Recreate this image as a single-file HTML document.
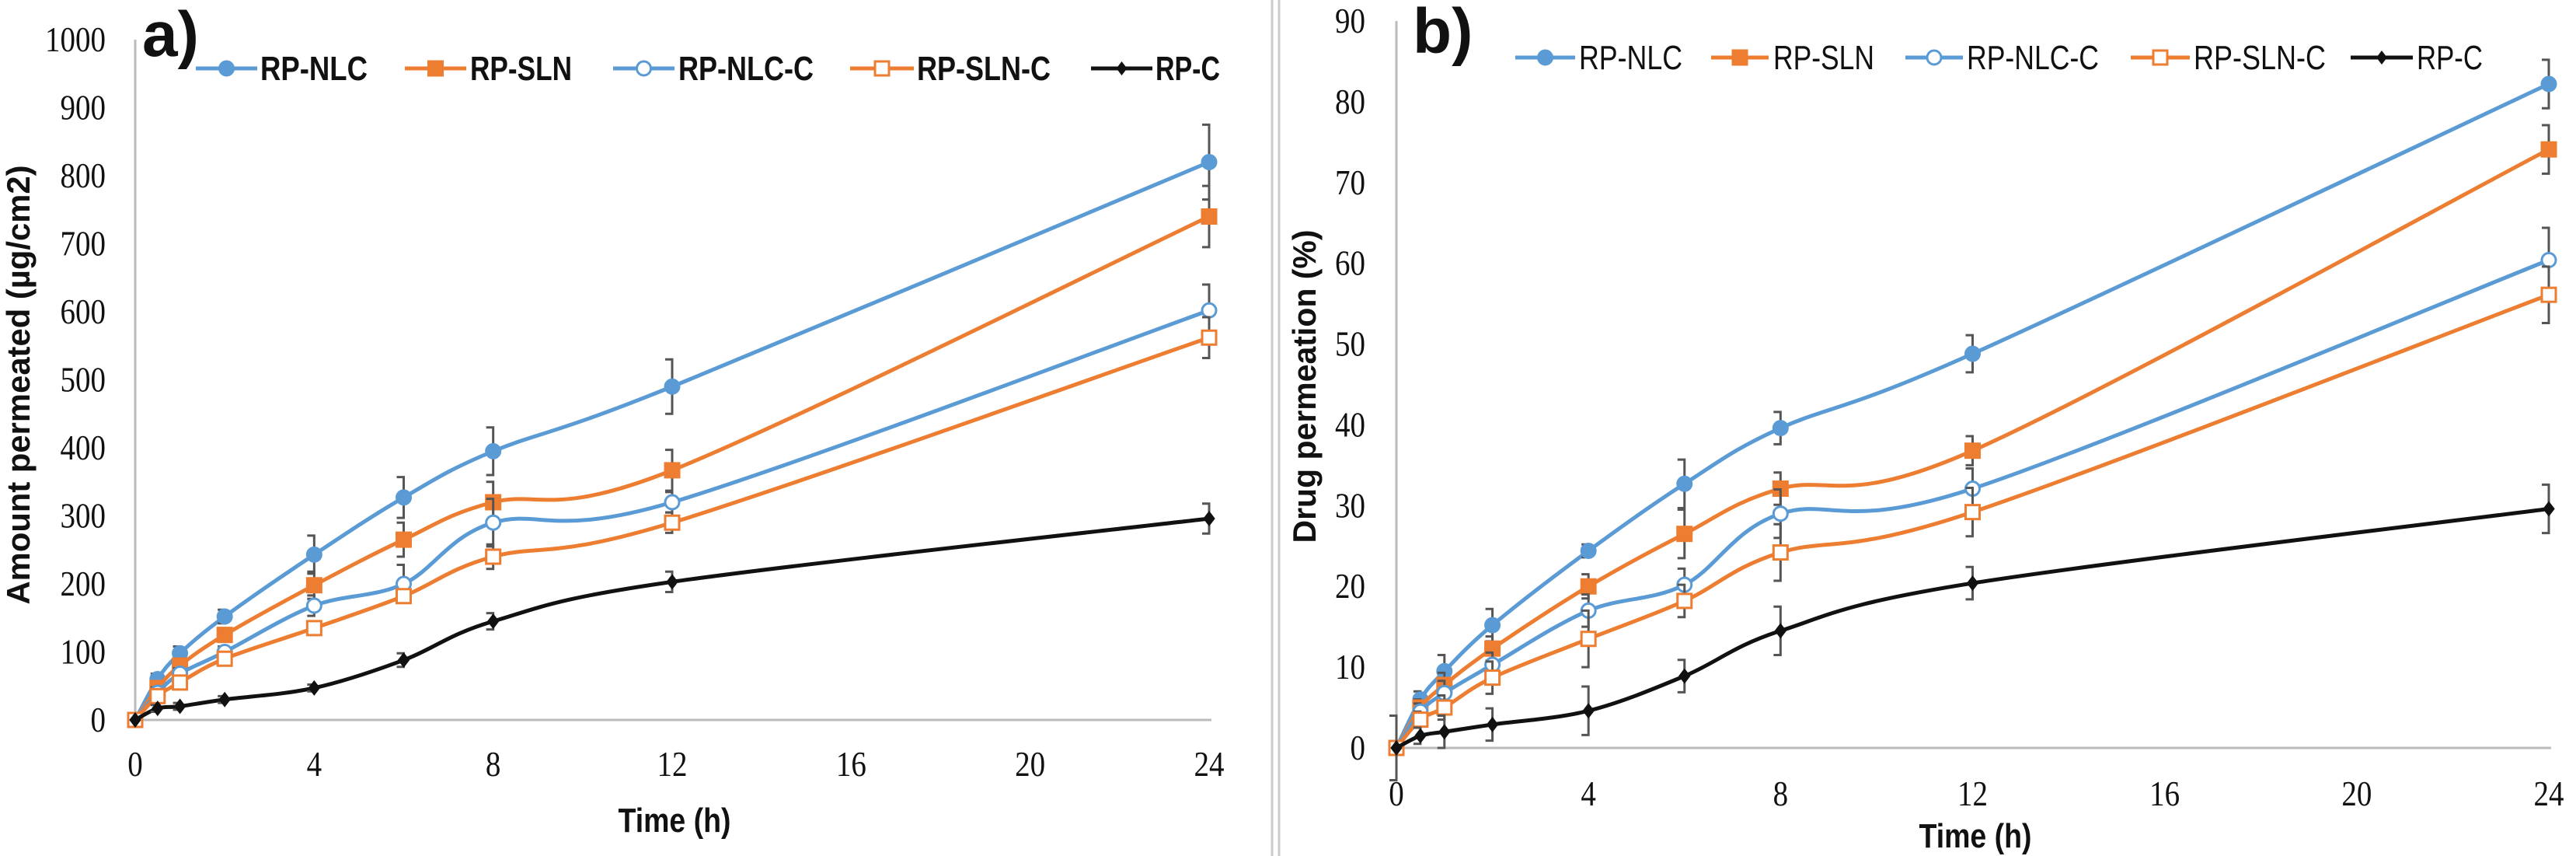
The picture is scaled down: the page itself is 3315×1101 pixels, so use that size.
<!DOCTYPE html>
<html><head><meta charset="utf-8"><style>
html,body{margin:0;padding:0;background:#fff;}
svg{display:block;}
</style></head><body>
<svg id="fig" width="3315" height="1101" viewBox="0 0 3315 1101" xmlns="http://www.w3.org/2000/svg">
<line x1="1637" y1="0" x2="1637" y2="1101" stroke="#ccc" stroke-width="3"/>
<line x1="1646" y1="0" x2="1646" y2="1101" stroke="#ccc" stroke-width="3"/>
</svg>
<script>
const times = [0, 0.5, 1, 2, 4, 6, 8, 12, 24];
const seriesNames = ["RP-NLC", "RP-SLN", "RP-NLC-C", "RP-SLN-C", "RP-C"];
const xTicks = [0, 4, 8, 12, 16, 20, 24];
// panel a: amount permeated (µg/cm2)
const aNLC = [0, 60, 98, 152, 243, 327, 395, 490, 820];
const aSLN = [0, 47, 80, 125, 198, 265, 320, 367, 740];
const aNLCC = [0, 40, 68, 100, 168, 200, 290, 320, 602];
const aSLNC = [0, 35, 55, 90, 135, 182, 240, 290, 562];
const aC = [0, 17, 20, 30, 47, 88, 145, 203, 296];
const aErrNLC = [0, 8, 10, 10, 28, 30, 35, 40, 55];
const aErrSLN = [0, 8, 8, 10, 20, 25, 30, 30, 45];
const aErrNLCC = [0, 8, 8, 8, 15, 28, 35, 15, 38];
const aErrSLNC = [0, 6, 6, 8, 10, 10, 18, 15, 30];
const aErrC = [0, 5, 5, 5, 5, 10, 12, 15, 22];
const aTicks = [0,100,200,300,400,500,600,700,800,900,1000];
// panel b: drug permeation (%)
const bNLC = [0, 6, 9.5, 15.2, 24.4, 32.7, 39.6, 48.8, 82.2];
const bSLN = [0, 5, 7.8, 12.3, 20, 26.5, 32.1, 36.8, 74.1];
const bNLCC = [0, 4.5, 6.8, 10.3, 17, 20.2, 29, 32.1, 60.4];
const bSLNC = [0, 3.5, 5, 8.7, 13.5, 18.2, 24.2, 29.2, 56.1];
const bC = [0, 1.5, 2, 2.9, 4.6, 8.9, 14.5, 20.4, 29.6];
const bErrNLC = [0, 1, 2, 2, 0.8, 3, 2, 2.3, 3];
const bErrSLN = [0, 1, 1.5, 1.5, 1.5, 3, 2, 1.8, 3];
const bErrNLCC = [0, 1, 1.5, 1.5, 2, 2, 3, 2.5, 4];
const bErrSLNC = [0, 1, 1.5, 2, 3.5, 2, 3.5, 3, 3.5];
const bErrC = [4, 1, 2, 2, 3, 2, 3, 2, 3];
const bTicks = [0,10,20,30,40,50,60,70,80,90];

const NS = "http://www.w3.org/2000/svg";
const svg = document.getElementById('fig');
const BLUE = "#5B9BD5", ORANGE = "#ED7D31", BLACK = "#111";
const styles = [
  {c: BLUE, m: "circle", fill: true},
  {c: ORANGE, m: "square", fill: true},
  {c: BLUE, m: "circle", fill: false},
  {c: ORANGE, m: "square", fill: false},
  {c: BLACK, m: "diamond", fill: true}
];
function mk(tag, attrs, parent) {
  const e = document.createElementNS(NS, tag);
  for (const k in attrs) e.setAttribute(k, attrs[k]);
  (parent || svg).appendChild(e);
  return e;
}
function marker(g, st, x, y, s) {
  let e;
  const fill = st.fill ? st.c : "#fff";
  if (st.m === "circle") e = mk("circle", {cx: x, cy: y, r: s/2, fill: fill, stroke: st.c, "stroke-width": 3}, g);
  else if (st.m === "square") e = mk("rect", {x: x - s/2, y: y - s/2, width: s, height: s, fill: fill, stroke: st.c, "stroke-width": 3}, g);
  else e = mk("path", {d: `M${x} ${y-s/2}L${x+s/2.6} ${y}L${x} ${y+s/2}L${x-s/2.6} ${y}Z`, fill: fill}, g);
  return e;
}
function smooth(pts) {
  const t = 0.5 / 3 * 2;
  let d = `M${pts[0][0]} ${pts[0][1]}`;
  for (let i = 0; i < pts.length - 1; i++) {
    const p0 = pts[Math.max(0, i-1)], p1 = pts[i], p2 = pts[i+1], p3 = pts[Math.min(pts.length-1, i+2)];
    const c1x = p1[0] + (p2[0]-p0[0]) * t / 2, c1y = p1[1] + (p2[1]-p0[1]) * t / 2;
    const c2x = p2[0] - (p3[0]-p1[0]) * t / 2, c2y = p2[1] - (p3[1]-p1[1]) * t / 2;
    d += `C${c1x} ${c1y} ${c2x} ${c2y} ${p2[0]} ${p2[1]}`;
  }
  return d;
}
function panel(cfg) {
  const g = mk("g", {});
  
  
  const X = v => cfg.x0 + (cfg.x1 - cfg.x0) * v / 24;
  const Y = v => cfg.y0 - (cfg.y0 - cfg.yTop) * v / cfg.yMax;
  // axes
  const ya = mk("line", {x1: cfg.x0, y1: cfg.yTop, x2: cfg.x0, y2: cfg.y0, stroke: "#bbb", "stroke-width": 3}, g);
  
  
  const xa = mk("line", {x1: cfg.x0, y1: cfg.y0, x2: cfg.x1 + 3, y2: cfg.y0, stroke: "#bbb", "stroke-width": 3}, g);
  
  
  cfg.yTicks.forEach(v => {
    const t = mk("text", {x: cfg.ylabX, y: Y(v) + 15, "text-anchor": "end", "font-family": "Liberation Serif, serif", "font-size": 46, fill: "#111", "textLength": String(v).length * 19.5, "lengthAdjust": "spacingAndGlyphs"}, g);
    t.textContent = v;
    
    
  });
  xTicks.forEach(v => {
    const t = mk("text", {x: X(v), y: cfg.xlabY, "text-anchor": "middle", "font-family": "Liberation Serif, serif", "font-size": 46, fill: "#111", "textLength": String(v).length * 19.5, "lengthAdjust": "spacingAndGlyphs"}, g);
    t.textContent = v;
    
    
  });
  // series
  cfg.series.forEach((vals, si) => {
    const st = styles[si];
    const sg = mk("g", {}, g);
    
    
    const pts = times.map((tm, i) => [X(tm), Y(vals[i])]);
    const ln = mk("path", {d: smooth(pts), fill: "none", stroke: st.c, "stroke-width": 5}, sg);
    
    
    times.forEach((tm, i) => {
      const e = cfg.errs[si][i];
      if (e > 0) {
        const x = X(tm), yh = Y(vals[i] + e), yl = Y(vals[i] - e);
        const eb = mk("path", {d: `M${x-9} ${yh}H${x}V${yl}H${x-9}`, fill: "none", stroke: "#555", "stroke-width": 3}, sg);
        
        
      }
    });
    times.forEach((tm, i) => {
      const m = marker(sg, st, X(tm), Y(vals[i]), st.m === "diamond" ? 20 : 18);
      
      
    });
  });
  // legend
  cfg.legend.forEach((L, si) => {
    const st = styles[si];
    const lg = mk("g", {}, g);
    
    
    mk("line", {x1: L[0], y1: cfg.legY, x2: L[1], y2: cfg.legY, stroke: st.c, "stroke-width": 5}, lg);
    marker(lg, st, (L[0] + L[1]) / 2, cfg.legY, 18);
    const t = mk("text", {x: L[2], y: cfg.legY + 15, "font-family": "Liberation Sans, sans-serif", "font-size": 44, "font-weight": cfg.legBold ? "bold" : "normal", fill: "#111", textLength: L[3] - L[2], lengthAdjust: "spacingAndGlyphs"}, lg);
    t.textContent = seriesNames[si];
  });
  // labels
  const pl = mk("text", {x: cfg.plX, y: cfg.plY, "font-family": "Liberation Sans, sans-serif", "font-size": 82, "font-weight": "bold", fill: "#111"}, g);
  pl.textContent = cfg.panelLabel;
  
  
  const xt = mk("text", {x: cfg.xtX, y: cfg.xtY, "text-anchor": "middle", "font-family": "Liberation Sans, sans-serif", "font-size": 44, "font-weight": "bold", fill: "#111", textLength: 145, lengthAdjust: "spacingAndGlyphs"}, g);
  xt.textContent = "Time (h)";
  
  
  const yt = mk("text", {x: 0, y: 0, transform: `translate(${cfg.ytX},${cfg.ytY}) rotate(-90)`, "text-anchor": "middle", "font-family": "Liberation Sans, sans-serif", "font-size": 42, "font-weight": "bold", fill: "#111", textLength: cfg.ytLen, lengthAdjust: "spacingAndGlyphs"}, g);
  yt.textContent = cfg.yTitle;
  
  
}
panel({
  name: "panel-a-amount-permeated", x0: 174, x1: 1556, y0: 926, yTop: 51, yMax: 1000,
  yTicks: aTicks, ylabX: 136, xlabY: 998,
  series: [aNLC, aSLN, aNLCC, aSLNC, aC],
  errs: [aErrNLC, aErrSLN, aErrNLCC, aErrSLNC, aErrC],
  legY: 88, legBold: true,
  legend: [[252,331,335,473],[521,600,605,736],[789,868,873,1047],[1094,1176,1180,1352],[1404,1483,1487,1570]],
  panelLabel: "a)", plX: 183, plY: 72,
  xtX: 868, xtY: 1070, ytX: 38, ytY: 495, ytLen: 565, yTitle: "Amount permeated (µg/cm2)"
});
panel({
  name: "panel-b-drug-permeation", x0: 1797, x1: 3280, y0: 962, yTop: 27, yMax: 90,
  yTicks: bTicks, ylabX: 1757, xlabY: 1036,
  series: [bNLC, bSLN, bNLCC, bSLNC, bC],
  errs: [bErrNLC, bErrSLN, bErrNLCC, bErrSLNC, bErrC],
  legY: 74, legBold: false,
  legend: [[1950,2027,2032,2165],[2202,2276,2282,2412],[2452,2526,2531,2701],[2742,2818,2823,2993],[3025,3105,3110,3195]],
  panelLabel: "b)", plX: 1818, plY: 68,
  xtX: 2542, xtY: 1090, ytX: 1693, ytY: 497, ytLen: 403, yTitle: "Drug permeation (%)"
});
</script>
</body></html>
